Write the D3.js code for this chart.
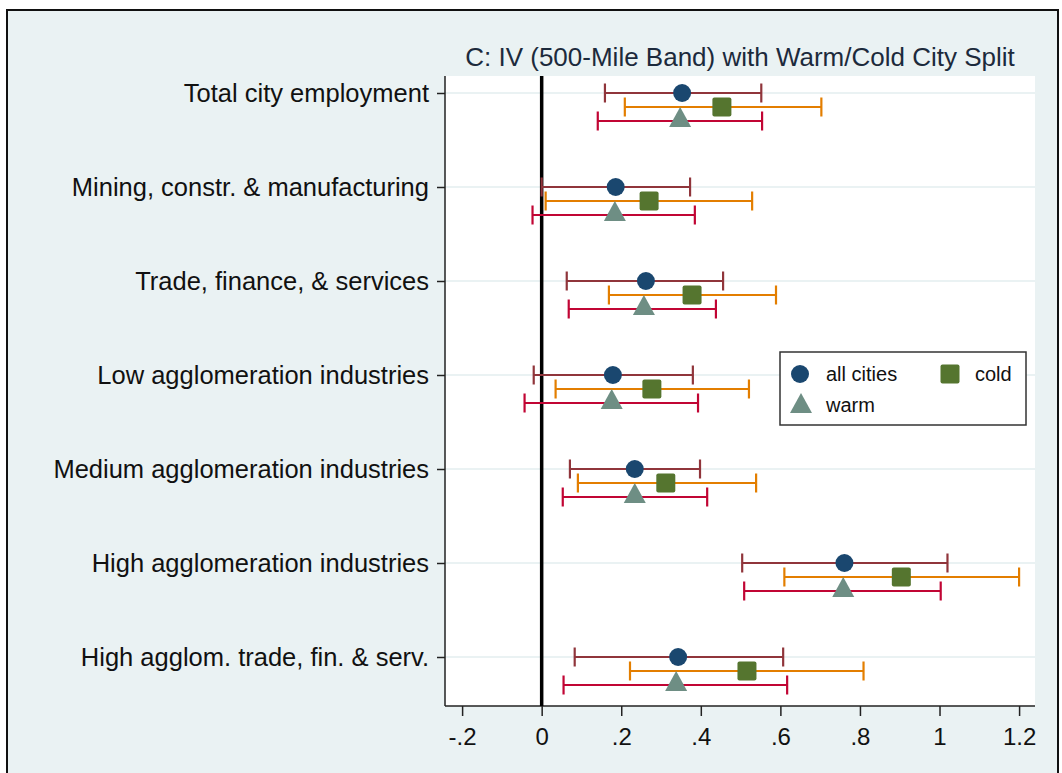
<!DOCTYPE html>
<meta charset="utf-8">
<script src="https://d3js.org/d3.v7.min.js"></script>
<style>
  body { margin: 0; background: #fff; }
  text { font-family: "Liberation Sans", Arial, sans-serif; }
</style>
<div id="chart"></div>
<script>
    // rows, top to bottom
    const categories = [
        "Total city employment",
        "Mining, constr. & manufacturing",
        "Trade, finance, & services",
        "Low agglomeration industries",
        "Medium agglomeration industries",
        "High agglomeration industries",
        "High agglom. trade, fin. & serv."
    ];

    // point estimates and 95% bounds
    const allEst  = [0.353, 0.186, 0.262, 0.179, 0.234, 0.761, 0.343];
    const allLo   = [0.159, 0.000, 0.063, -0.020, 0.071, 0.504, 0.083];
    const allHi   = [0.552, 0.373, 0.456, 0.380, 0.398, 1.020, 0.607];

    const coldEst = [0.453, 0.270, 0.378, 0.277, 0.312, 0.904, 0.516];
    const coldLo  = [0.209, 0.010, 0.169, 0.035, 0.091, 0.610, 0.222];
    const coldHi  = [0.703, 0.529, 0.589, 0.521, 0.539, 1.200, 0.809];

    const warmEst = [0.348, 0.184, 0.257, 0.176, 0.234, 0.758, 0.338];
    const warmLo  = [0.141, -0.023, 0.068, -0.043, 0.053, 0.509, 0.055];
    const warmHi  = [0.554, 0.385, 0.438, 0.393, 0.416, 1.003, 0.617];

    const xTicks = [-0.2, 0, 0.2, 0.4, 0.6, 0.8, 1, 1.2];
    const xTickLabels = ["-.2", "0", ".2", ".4", ".6", ".8", "1", "1.2"];

    const W = 1062, H = 773;
    const plot = { left: 445, right: 1035, top: 76, bottom: 706 };

    const svg = d3.select("#chart").append("svg")
        .attr("width", W).attr("height", H);

    // outer frame
    svg.append("rect")
        .attr("x", 7).attr("y", 10)
        .attr("width", 1051).attr("height", 780)
        .attr("fill", "#eaf2f3")
        .attr("stroke", "#111").attr("stroke-width", 2);

    // plot area
    svg.append("rect")
        .attr("x", plot.left).attr("y", plot.top)
        .attr("width", plot.right - plot.left)
        .attr("height", plot.bottom - plot.top)
        .attr("fill", "#fff");

    const x = d3.scaleLinear().domain([-0.243, 1.24]).range([plot.left, plot.right]);
    const y = d3.scalePoint().domain(categories).range([93, 657]).padding(0);

    // grid lines
    svg.append("g").selectAll("line")
        .data(categories)
        .join("line")
        .attr("x1", plot.left).attr("x2", plot.right)
        .attr("y1", d => y(d)).attr("y2", d => y(d))
        .attr("stroke", "#eaf2f3").attr("stroke-width", 2);

    // y axis
    const yAxis = svg.append("g")
        .attr("transform", `translate(${plot.left},0)`)
        .call(d3.axisLeft(y).tickSize(8).tickPadding(8));
    yAxis.select(".domain").attr("d", `M0,${plot.top}V${plot.bottom}`).attr("stroke", "#222").attr("stroke-width", 1.5);
    yAxis.selectAll(".tick line").attr("stroke", "#222").attr("stroke-width", 1.5);
    yAxis.selectAll(".tick text").attr("font-size", 25.5).attr("fill", "#111")
        .attr("font-family", "Liberation Sans, Arial, sans-serif");

    // x axis
    const xAxis = svg.append("g")
        .attr("transform", `translate(0,${plot.bottom})`)
        .call(d3.axisBottom(x).tickValues(xTicks).tickSize(10).tickPadding(12)
            .tickFormat((d, i) => xTickLabels[i]));
    xAxis.select(".domain").attr("d", `M${plot.left},0H${plot.right}`).attr("stroke", "#222").attr("stroke-width", 1.5);
    xAxis.selectAll(".tick line").attr("stroke", "#222").attr("stroke-width", 1.5);
    xAxis.selectAll(".tick text").attr("font-size", 24).attr("fill", "#111")
        .attr("font-family", "Liberation Sans, Arial, sans-serif");

    // zero line
    svg.append("line")
        .attr("x1", x(0)).attr("x2", x(0))
        .attr("y1", plot.top).attr("y2", plot.bottom)
        .attr("stroke", "#000").attr("stroke-width", 3.5);

    const series = [
        { est: allEst, lo: allLo, hi: allHi, off: 0, bar: "#90353b", fill: "#1a476f", shape: "circle" },
        { est: coldEst, lo: coldLo, hi: coldHi, off: 14, bar: "#e37e00", fill: "#55752f", shape: "square" },
        { est: warmEst, lo: warmLo, hi: warmHi, off: 28, bar: "#c10534", fill: "#6e8e84", shape: "triangle" }
    ];

    function drawMarker(g, shape, cx, cy, fill) {
        if (shape === "circle") {
            g.append("circle").attr("cx", cx).attr("cy", cy).attr("r", 9).attr("fill", fill);
        } else if (shape === "square") {
            g.append("rect").attr("x", cx - 9.5).attr("y", cy - 9.5)
                .attr("width", 19).attr("height", 19).attr("rx", 2).attr("fill", fill);
        } else {
            g.append("path")
                .attr("d", `M${cx},${cy - 12}L${cx + 11},${cy + 8}L${cx - 11},${cy + 8}Z`)
                .attr("fill", fill);
        }
    }

    const marks = svg.append("g");
    series.forEach(s => {
        categories.forEach((c, i) => {
            const yy = y(c) + s.off;
            const g = marks.append("g");
            g.append("line")
                .attr("x1", x(s.lo[i])).attr("x2", x(s.hi[i]))
                .attr("y1", yy).attr("y2", yy)
                .attr("stroke", s.bar).attr("stroke-width", 2.2);
            [s.lo[i], s.hi[i]].forEach(v => {
                g.append("line")
                    .attr("x1", x(v)).attr("x2", x(v))
                    .attr("y1", yy - 9.5).attr("y2", yy + 9.5)
                    .attr("stroke", s.bar).attr("stroke-width", 2.2);
            });
            drawMarker(g, s.shape, x(s.est[i]), s.shape === "triangle" ? yy - 2 : yy, s.fill);
        });
    });

    // title
    svg.append("text")
        .attr("x", (plot.left + plot.right) / 2).attr("y", 66)
        .attr("text-anchor", "middle")
        .attr("font-size", 26).attr("fill", "#1c2a3c")
        .text("C: IV (500-Mile Band) with Warm/Cold City Split");

    // legend
    const leg = svg.append("g");
    leg.append("rect")
        .attr("x", 780).attr("y", 352).attr("width", 246).attr("height", 73)
        .attr("fill", "#fff").attr("stroke", "#333").attr("stroke-width", 1.5);
    const legItems = [
        { label: "all cities", shape: "circle", fill: "#1a476f", mx: 800, my: 374, tx: 826, ty: 381 },
        { label: "cold", shape: "square", fill: "#55752f", mx: 950, my: 374, tx: 975, ty: 381 },
        { label: "warm", shape: "triangle", fill: "#6e8e84", mx: 801, my: 405, tx: 826, ty: 412 }
    ];
    legItems.forEach(d => {
        drawMarker(leg, d.shape, d.mx, d.my, d.fill);
        leg.append("text").attr("x", d.tx).attr("y", d.ty)
            .attr("font-size", 20).attr("fill", "#111").text(d.label);
    });
</script>
